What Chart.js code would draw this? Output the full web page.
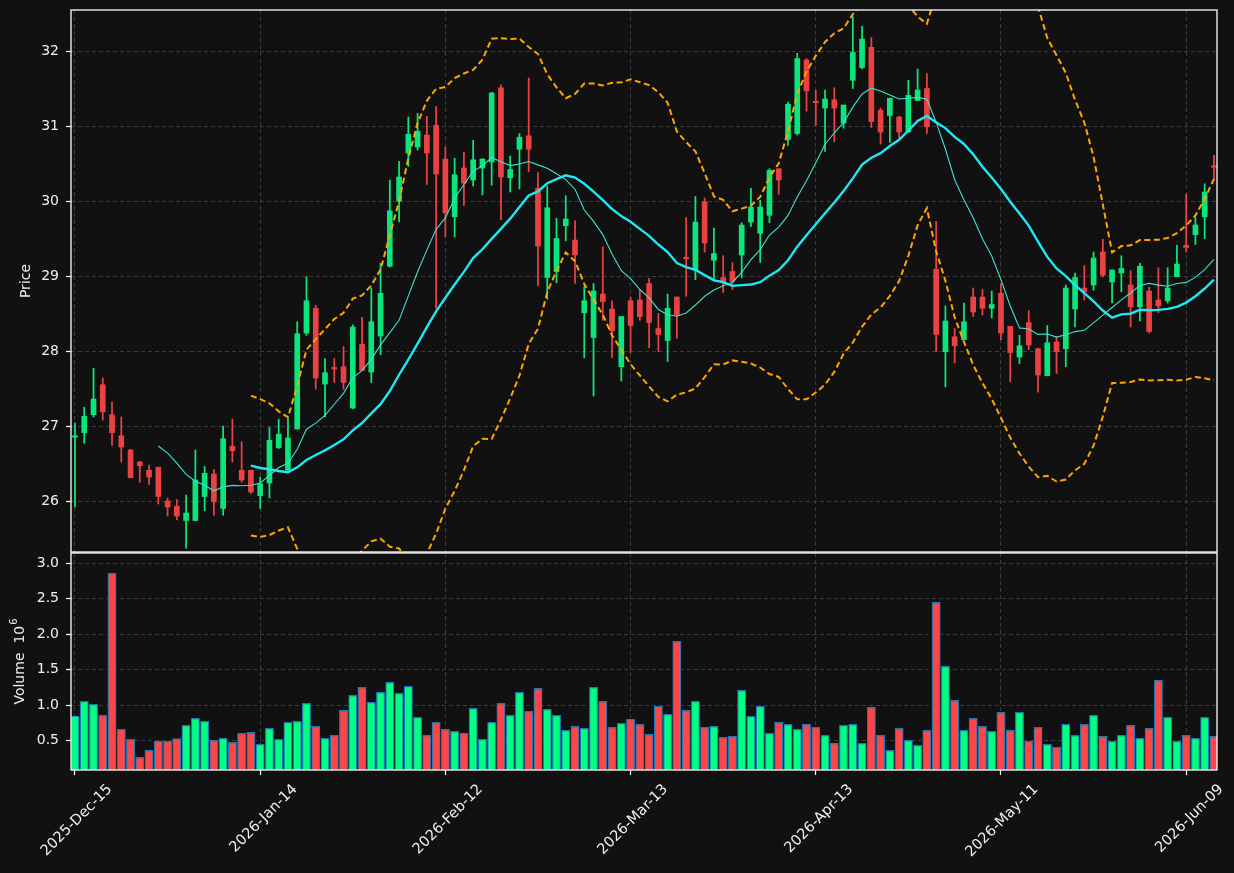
<!DOCTYPE html>
<html><head><meta charset="utf-8">
<script src="https://cdn.jsdelivr.net/npm/chart.js@4.4.1/dist/chart.umd.min.js"></script>
<style>
html,body{margin:0;padding:0;background:#111111;width:1234px;height:873px;overflow:hidden;}
#p{position:absolute;left:0;top:0;width:1234px;height:553px;}
#v{position:absolute;left:0;top:552px;width:1234px;height:321px;}
</style></head><body>
<div id="p"><canvas id="cp"></canvas></div>
<div id="v"><canvas id="cv"></canvas></div>
<script>
// ---- data ----
const tickLabels = ['2025-Dec-15','2026-Jan-14','2026-Feb-12','2026-Mar-13','2026-Apr-13','2026-May-11','2026-Jun-09'];
const tickIndex = [0,20,40,60,80,100,120];
const priceTicks = [26,27,28,29,30,31,32];
const volumeTicks = [0.5,1.0,1.5,2.0,2.5,3.0];

const opens = [26.85,26.91,27.15,27.55,27.15,26.87,26.68,26.52,26.41,26.45,
26.00,25.93,25.74,25.74,26.06,26.36,25.90,26.73,26.41,26.41,
26.07,26.24,26.71,26.41,26.96,28.24,28.57,27.56,27.78,27.79,
27.24,28.09,27.72,28.20,29.13,30.00,30.64,30.72,30.88,31.01,
30.56,29.79,30.44,30.28,30.44,30.52,31.51,30.31,30.69,30.87,
30.17,28.98,29.06,29.67,29.48,28.51,28.18,28.76,28.56,27.79,
28.67,28.68,28.90,28.30,28.14,28.72,29.25,29.08,29.99,29.21,
28.98,29.06,29.28,29.72,29.57,29.81,30.43,30.82,30.90,31.88,
31.33,31.24,31.35,31.04,31.61,31.78,32.05,31.21,31.14,31.12,
30.92,31.34,31.50,29.09,27.99,28.19,28.15,28.72,28.72,28.57,
28.77,28.33,27.92,28.38,28.03,27.67,28.12,28.03,28.56,28.84,
28.88,29.32,28.92,29.04,28.88,28.59,28.80,28.68,28.67,28.99,
29.41,29.55,29.79,30.47];
const highs = [27.04,27.25,27.77,27.64,27.32,27.12,26.69,26.53,26.48,26.45,
26.04,26.02,26.08,26.68,26.46,26.42,27.00,27.09,26.79,26.41,
26.32,26.98,27.09,27.10,28.39,28.99,28.61,27.90,27.90,28.06,
28.35,28.45,28.84,29.17,30.28,30.53,31.12,31.17,31.13,31.26,
30.72,30.57,30.65,30.81,30.56,31.45,31.55,30.60,30.90,31.64,
30.38,30.20,29.77,30.07,29.74,28.86,28.90,29.39,28.67,28.46,
28.72,28.81,28.97,28.50,28.76,28.72,29.78,30.06,30.04,29.64,
29.27,29.18,29.71,30.17,30.01,30.43,30.43,31.32,31.97,31.90,
31.48,31.48,31.51,31.28,32.46,32.33,32.18,31.24,31.37,31.13,
31.61,31.76,31.70,29.73,28.60,28.30,28.64,28.84,28.82,28.80,
28.90,28.33,28.21,28.54,28.04,28.34,28.19,28.88,29.04,29.14,
29.32,29.49,29.08,29.27,29.07,29.17,28.85,29.11,29.11,29.41,
30.09,29.78,30.23,30.61];
const lows = [25.92,26.77,27.12,27.08,26.74,26.52,26.31,26.25,26.22,25.96,
25.80,25.75,25.37,25.74,25.87,25.81,25.81,26.52,26.25,26.10,
25.90,26.04,26.70,26.41,26.96,28.21,27.49,27.12,27.58,27.49,
27.23,27.74,27.58,27.95,29.12,29.72,30.46,30.68,30.22,28.57,
29.52,29.52,29.94,30.20,30.08,30.21,29.75,30.12,30.16,30.39,
28.87,28.69,28.91,29.47,28.90,27.91,27.40,28.41,27.91,27.60,
27.98,28.41,28.04,27.99,27.86,28.17,28.73,28.95,29.32,28.95,
28.78,28.82,28.98,29.66,29.18,29.71,30.09,30.74,30.88,31.20,
31.01,30.66,30.79,30.97,31.50,31.76,30.98,30.76,30.78,30.84,
30.92,31.34,30.90,27.99,27.52,27.84,28.15,28.46,28.48,28.44,
28.15,27.59,27.83,28.02,27.45,27.67,27.70,27.79,28.32,28.68,
28.81,28.99,28.64,28.79,28.32,28.40,28.24,28.51,28.64,28.99,
29.32,29.42,29.50,30.28];
const closes = [26.87,27.13,27.36,27.19,26.91,26.72,26.31,26.47,26.32,26.06,
25.92,25.80,25.84,26.28,26.37,25.99,26.83,26.67,26.28,26.12,
26.23,26.81,26.89,26.84,28.23,28.67,27.64,27.71,27.76,27.58,
28.32,27.74,28.39,28.77,29.87,30.32,30.89,30.93,30.64,30.36,
29.84,30.35,30.24,30.55,30.56,31.44,30.32,30.42,30.85,30.69,
29.40,29.91,29.50,29.76,29.28,28.67,28.80,28.66,28.27,28.46,
28.34,28.46,28.38,28.22,28.57,28.48,29.23,29.72,29.44,29.30,
28.91,28.93,29.68,29.92,29.92,30.41,30.28,31.29,31.90,31.47,
31.31,31.36,31.24,31.28,31.98,32.16,31.06,30.92,31.37,30.92,
31.41,31.48,30.99,28.22,28.40,28.07,28.39,28.52,28.57,28.62,
28.24,27.98,28.07,28.08,27.68,28.11,27.99,28.84,28.98,28.79,
29.24,29.01,29.08,29.10,28.59,29.13,28.26,28.60,28.84,29.16,
29.38,29.68,30.12,30.45];
const volumes = [0.848,1.055,1.013,0.858,2.859,0.660,0.520,0.266,0.365,0.490,
0.490,0.530,0.717,0.815,0.773,0.505,0.533,0.477,0.604,0.618,
0.449,0.675,0.520,0.759,0.773,1.027,0.703,0.533,0.576,0.928,
1.140,1.252,1.041,1.182,1.323,1.168,1.266,0.830,0.576,0.759,
0.660,0.632,0.608,0.956,0.520,0.759,1.027,0.858,1.182,0.914,
1.238,0.942,0.858,0.647,0.703,0.675,1.252,1.055,0.689,0.745,
0.800,0.731,0.590,0.985,0.872,1.900,0.928,1.055,0.689,0.703,
0.548,0.562,1.210,0.844,0.985,0.604,0.759,0.731,0.660,0.731,
0.689,0.576,0.463,0.717,0.731,0.463,0.970,0.576,0.365,0.675,
0.505,0.435,0.647,2.450,1.548,1.069,0.647,0.815,0.703,0.632,
0.900,0.647,0.900,0.490,0.689,0.449,0.407,0.731,0.576,0.731,
0.858,0.562,0.490,0.576,0.717,0.533,0.675,1.351,0.830,0.490,
0.576,0.533,0.830,0.562];

// ---- derived indicators (from the closes) ----
function sma(arr, n){ const out=[]; for(let i=n-1;i<arr.length;i++){ let s=0; for(let k=i-n+1;k<=i;k++) s+=arr[k]; out.push({x:i,y:s/n}); } return out; }
function boll(arr, n, m){ const up=[], lo=[]; for(let i=n-1;i<arr.length;i++){ let s=0; for(let k=i-n+1;k<=i;k++) s+=arr[k]; const mean=s/n; let v=0; for(let k=i-n+1;k<=i;k++) v+=(arr[k]-mean)**2; const sd=Math.sqrt(v/(n-1)); up.push({x:i,y:mean+m*sd}); lo.push({x:i,y:mean-m*sd}); } return [up,lo]; }
const ma10 = sma(closes,10), ma20 = sma(closes,20);
const [bbUp, bbLo] = boll(closes,20,2);

const idx = closes.map((_,i)=>i);
const isUp = idx.map(i=>closes[i]>=opens[i]);
const cUp='#0ae67c', cDn='#ea4242', vUp='#00ff82', vDn='#ff4646';

const XMIN=-0.43, XMAX=123.33;
const GRID='#3a3a3a', TXT='#f0f0f0';
Chart.defaults.font.family='DejaVu Sans';
Chart.defaults.font.size=14;
Chart.defaults.color=TXT;

const boxPlugin = { id:'box', afterDraw(chart){ const {ctx, chartArea:a}=chart; ctx.save(); ctx.strokeStyle='#ffffff'; ctx.lineWidth=1.3; ctx.strokeRect(a.left, a.top, a.right-a.left, a.bottom-a.top); ctx.restore(); } };
const volTitlePlugin = { id:'voltitle', afterDraw(chart){
  const {ctx, chartArea:a}=chart; ctx.save();
  ctx.translate(20, (a.top+a.bottom)/2); ctx.rotate(-Math.PI/2);
  ctx.fillStyle=TXT; ctx.textBaseline='middle'; ctx.textAlign='left';
  const main='Volume  10', sup='6';
  ctx.font='14px "DejaVu Sans"'; const w1=ctx.measureText(main).width;
  ctx.font='10px "DejaVu Sans"'; const w2=ctx.measureText(sup).width;
  const x0=-(w1+w2+1)/2;
  ctx.font='14px "DejaVu Sans"'; ctx.fillText(main, x0, 0);
  ctx.font='10px "DejaVu Sans"'; ctx.fillText(sup, x0+w1+1, -6);
  ctx.restore(); } };
const setTicks = vals => (axis => { axis.ticks = vals.map(v=>({value:v})); });
const fitY = a => { a.width=71; a.paddingTop=0; a.paddingBottom=0; };
const fitX = h => (a => { a.height=h; a.paddingLeft=0; a.paddingRight=0; });

new Chart(document.getElementById('cp'), {
  type:'bar',
  data:{ datasets:[
    {type:'line', data:ma10, borderColor:'#40e0d0', borderWidth:1.1, pointRadius:0, tension:0, order:0},
    {type:'line', data:ma20, borderColor:'#1ee8f4', borderWidth:2.4, pointRadius:0, tension:0, order:0},
    {type:'line', data:bbUp, borderColor:'#ffa500', borderWidth:2, borderDash:[6,3.5], pointRadius:0, tension:0, order:0},
    {type:'line', data:bbLo, borderColor:'#ffa500', borderWidth:2, borderDash:[6,3.5], pointRadius:0, tension:0, order:0},
    {type:'bar', data:idx.map(i=>({x:i, y:[opens[i], closes[i]]})), backgroundColor:idx.map(i=>isUp[i]?cUp:cDn), barThickness:5, minBarLength:1.2, grouped:false, order:1},
    {type:'bar', data:idx.map(i=>({x:i, y:[lows[i], highs[i]]})), backgroundColor:idx.map(i=>isUp[i]?cUp:cDn), barThickness:1.1, grouped:false, order:2}
  ]},
  options:{
    responsive:true, maintainAspectRatio:false, animation:false,
    layout:{padding:{top:10, right:17, left:0, bottom:1}},
    plugins:{legend:{display:false}, tooltip:{enabled:false}},
    scales:{
      x:{type:'linear', min:XMIN, max:XMAX, offset:false, afterBuildTicks:setTicks(tickIndex),
         ticks:{display:false}, grid:{color:GRID, drawTicks:false, offset:false}, border:{display:false, dash:[4,3]},
         afterFit:fitX(0)},
      y:{min:25.32, max:32.547, afterBuildTicks:setTicks(priceTicks),
         ticks:{color:TXT, padding:7, callback:v=>String(v)},
         grid:{color:GRID, tickColor:'#ffffff', tickLength:5, tickWidth:1.2},
         border:{display:false, dash:[4,3]},
         title:{display:true, text:'Price', color:TXT, font:{size:14}, padding:{top:18}},
         afterFit:fitY}
    }
  },
  plugins:[boxPlugin]
});

new Chart(document.getElementById('cv'), {
  type:'bar',
  data:{ datasets:[
    {data:idx.map(i=>({x:i, y:volumes[i]})), backgroundColor:idx.map(i=>isUp[i]?vUp:vDn), borderColor:'#1f77b4', borderWidth:1.2, borderSkipped:false, barThickness:8.3, grouped:false}
  ]},
  options:{
    responsive:true, maintainAspectRatio:false, animation:false,
    layout:{padding:{top:1, right:17, left:0, bottom:0}},
    plugins:{legend:{display:false}, tooltip:{enabled:false}},
    scales:{
      x:{type:'linear', min:XMIN, max:XMAX, offset:false, afterBuildTicks:setTicks(tickIndex),
         ticks:{color:TXT, font:{size:14.5}, minRotation:45, maxRotation:45, autoSkip:false, labelOffset:35, padding:6,
                callback:(v,i)=>tickLabels[i]},
         grid:{color:GRID, tickColor:'#ffffff', tickLength:5, tickWidth:1.2, offset:false},
         border:{display:false, dash:[4,3]},
         afterFit:fitX(103)},
      y:{min:0.087, max:3.145, afterBuildTicks:setTicks(volumeTicks),
         ticks:{color:TXT, padding:7, callback:v=>v.toFixed(1)},
         grid:{color:GRID, tickColor:'#ffffff', tickLength:5, tickWidth:1.2},
         border:{display:false, dash:[4,3]},
         title:{display:false},
         afterFit:fitY}
    }
  },
  plugins:[boxPlugin, volTitlePlugin]
});
</script>
</body></html>
